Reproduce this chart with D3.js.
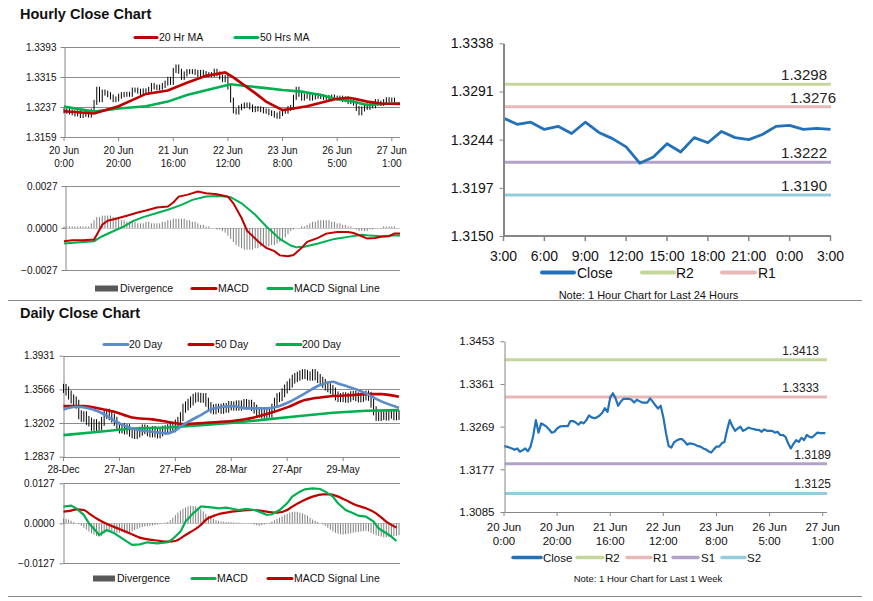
<!DOCTYPE html>
<html><head><meta charset="utf-8">
<script src="https://cdn.jsdelivr.net/npm/d3@7"></script>
<style>body{margin:0;background:#fff}svg{display:block}</style>
</head><body><svg id="c" width="873" height="601"></svg>
<script>
// ---------------- DATA ----------------
// Hourly (last week) close, 20 Jun 0:00 -> 27 Jun 1:00
const hourlyClose = [1.3227,1.3226,1.3224,1.3222,1.3219,1.3222,1.3215,1.3218,1.3222,1.3216,
1.3226,1.3249,1.3283,1.3256,1.3276,1.3273,1.3269,1.3263,1.3256,1.3258,
1.3265,1.3269,1.3270,1.3270,1.3270,1.3281,1.3281,1.3278,1.3273,1.3279,
1.3276,1.3283,1.3293,1.3289,1.3287,1.3289,1.3293,1.3299,1.3309,1.3301,
1.3332,1.3341,1.3330,1.3314,1.3323,1.3329,1.3329,1.3329,1.3327,1.3321,
1.3327,1.3324,1.3321,1.3321,1.3321,1.3330,1.3323,1.3315,1.3308,1.3314,
1.3289,1.3255,1.3227,1.3224,1.3235,1.3239,1.3242,1.3242,1.3237,1.3230,
1.3233,1.3232,1.3230,1.3227,1.3226,1.3222,1.3220,1.3216,1.3213,1.3220,
1.3226,1.3226,1.3233,1.3236,1.3262,1.3283,1.3270,1.3260,1.3265,1.3269,
1.3260,1.3263,1.3267,1.3265,1.3264,1.3262,1.3262,1.3258,1.3263,1.3260,
1.3260,1.3260,1.3256,1.3258,1.3251,1.3251,1.3247,1.3233,1.3222,1.3232,
1.3240,1.3236,1.3245,1.3240,1.3251,1.3247,1.3246,1.3251,1.3256,1.3255,
1.3255,1.3255];
const hourlyLabelIdx = [0,20,40,60,80,100,120];
const hourlyLabelDay = ["20 Jun","20 Jun","21 Jun","22 Jun","23 Jun","26 Jun","27 Jun"];
const hourlyLabelTime = ["0:00","20:00","16:00","12:00","8:00","5:00","1:00"];
const hourlyTicks = [1.3159,1.3237,1.3315,1.3393];

const ma20Idx = [0,11,20,30,38,45,52,59,62,70,74,80,84,89,99,104,106,111,116,123];
const ma20Val = [1.3226,1.3220,1.3239,1.3271,1.3280,1.3300,1.3318,1.3327,1.3314,1.3273,1.3251,1.3229,1.3233,1.3239,1.3257,1.3261,1.3259,1.3251,1.3246,1.3245];
const ma50Idx = [0,11,20,30,38,45,55,61,65,74,80,87,94,99,106,111,116,123];
const ma50Val = [1.3238,1.3225,1.3233,1.3239,1.3251,1.3268,1.3286,1.3296,1.3293,1.3286,1.3281,1.3277,1.3268,1.3259,1.3251,1.3242,1.3245,1.3246];

const hMacdTicks = [-0.0027,0,0.0027];
const hMacdIdx = [0,3,7,11,12,14,16,19,23,27,30,34,38,40,42,45,49,52,56,60,62,65,67,71,74,77,79,82,84,87,89,93,96,100,104,106,109,111,114,116,119,121,123];
const hMacdVal = [-0.00085,-0.00079,-0.00079,-0.00074,-0.00043,0.00021,0.00047,0.0006,0.00079,0.001,
0.00113,0.00132,0.00138,0.00164,0.00202,0.00213,0.00234,0.00223,0.00217,0.00202,
0.00159,0.00064,-0.00017,-0.00085,-0.00128,-0.00149,-0.00176,-0.00181,-0.00174,-0.00128,
-0.00089,-0.00064,-0.00036,-0.00026,-0.00026,-0.00032,-0.00053,-0.00068,-0.00064,-0.00057,
-0.00053,-0.00036,-0.00036];
const hSigIdx = [0,6,11,14,18,22,25,29,34,38,43,47,52,57,61,65,70,74,79,83,85,88,93,99,104,109,112,116,120,123];
const hSigVal = [-0.001,-0.00091,-0.00085,-0.00053,-0.00021,0.00011,0.00043,0.0007,0.00096,0.00117,
0.00149,0.00181,0.00202,0.00206,0.00198,0.00159,0.00085,0.00011,-0.0007,-0.00113,
-0.00123,-0.00121,-0.001,-0.0007,-0.00057,-0.00043,-0.00049,-0.00053,-0.00049,-0.00049];
const hourlyDiv = [0.0001,0.0001,0.0001,0.0001,0.0001,0.0001,0.0001,0.0001,0.0001,0.0001,
0.0003,0.0005,0.0007,0.0007,0.0008,0.0008,0.0008,0.0008,0.0007,0.0007,
0.0006,0.0005,0.0005,0.0004,0.0004,0.0004,0.0004,0.0003,0.0003,0.0003,
0.0004,0.0004,0.0003,0.0003,0.0003,0.0003,0.0004,0.0004,0.0005,0.0005,
0.0006,0.0006,0.0006,0.0006,0.0006,0.0005,0.0005,0.0004,0.0004,0.0003,
0.0002,0.0002,0.0001,0.0001,0,0,-0.0001,-0.0001,-0.0002,-0.0003,
-0.0005,-0.0007,-0.0009,-0.0011,-0.0012,-0.0013,-0.0014,-0.0014,-0.0014,-0.0014,
-0.0013,-0.0013,-0.0012,-0.0012,-0.0012,-0.0012,-0.0011,-0.0011,-0.001,-0.0009,
-0.0008,-0.0006,-0.0004,-0.0002,-0.0001,0,0,0.0001,0.0001,0.0002,
0.0003,0.0004,0.0004,0.0005,0.0005,0.0005,0.0005,0.0005,0.0004,0.0004,
0.0003,0.0003,0.0002,0.0002,0.0001,0.0001,0,-0.0001,-0.0002,-0.0002,
-0.0002,-0.0002,-0.0001,-0.0001,0,0,0,0.0001,0.0001,0.0001,
0.0001,0.0001];

// Daily close, 28-Dec -> late Jun
const dailyClose = [1.3577,1.3548,1.3505,1.3462,1.3441,1.3405,1.3291,1.3263,1.3280,1.3230,
1.3213,1.3166,1.3195,1.3160,1.3170,1.3220,1.3295,1.3309,1.3280,1.3255,
1.3220,1.3166,1.3138,1.3150,1.3127,1.3141,1.3102,1.3084,1.3077,1.3095,
1.3113,1.3138,1.3130,1.3109,1.3095,1.3120,1.3095,1.3084,1.3105,1.3123,
1.3130,1.3141,1.3166,1.3150,1.3191,1.3220,1.3270,1.3362,1.3387,1.3416,
1.3441,1.3470,1.3484,1.3480,1.3470,1.3477,1.3427,1.3380,1.3355,1.3345,
1.3362,1.3362,1.3350,1.3370,1.3362,1.3391,1.3387,1.3384,1.3398,1.3384,
1.3398,1.3413,1.3398,1.3405,1.3380,1.3352,1.3327,1.3309,1.3298,1.3305,
1.3309,1.3309,1.3362,1.3427,1.3477,1.3487,1.3530,1.3570,1.3605,1.3634,
1.3677,1.3695,1.3709,1.3723,1.3737,1.3727,1.3712,1.3709,1.3737,1.3712,
1.3684,1.3655,1.3630,1.3602,1.3584,1.3566,1.3537,1.3495,1.3477,1.3477,
1.3487,1.3470,1.3480,1.3498,1.3502,1.3487,1.3473,1.3480,1.3495,1.3505,
1.3491,1.3416,1.3334,1.3273,1.3273,1.3284,1.3284,1.3277,1.3305,1.3298,
1.3280,1.3284,1.3291];
const dailyLabelIdx = [0,22,44,66,88,110];
const dailyLabels = ["28-Dec","27-Jan","27-Feb","28-Mar","27-Apr","29-May"];
const dailyTicks = [1.2837,1.3202,1.3566,1.3931];
const dMa20Idx = [0,5,14,22,27,35,41,43,48,54,59,67,72,80,84,89,95,101,106,108,114,119,124,132];
const dMa20Val = [1.3349,1.3378,1.3324,1.3197,1.3143,1.3107,1.3089,1.3107,1.3197,1.3288,1.3360,1.3385,1.3360,1.3360,1.3378,1.3432,1.3523,1.3613,1.3649,1.3631,1.3577,1.3523,1.3450,1.3367];
const dMa50Idx = [0,8,14,20,27,35,43,48,56,67,75,80,88,95,101,106,114,119,125,132];
const dMa50Val = [1.3385,1.3385,1.3360,1.3324,1.3262,1.3241,1.3205,1.3190,1.3205,1.3226,1.3262,1.3299,1.3371,1.3450,1.3479,1.3494,1.3505,1.3515,1.3515,1.3486];
const dMa200Idx = [0,14,27,41,54,67,80,93,106,119,132];
const dMa200Val = [1.3071,1.3107,1.3143,1.3154,1.3179,1.3205,1.3241,1.3277,1.3313,1.3335,1.3342];

const dMacdTicks = [-0.0127,0,0.0127];
const dMacdIdx = [0,3,5,8,10,13,14,17,20,22,25,27,30,33,37,41,43,46,48,51,54,55,59,61,64,67,69,72,75,77,80,82,85,88,90,93,95,98,101,103,106,108,111,114,116,119,122,124,127,129,131];
const dMacdVal = [0.00529,0.00561,0.00476,0.00265,0,-0.00265,-0.0037,-0.00212,-0.00317,-0.00423,
-0.00582,-0.00688,-0.00667,-0.00603,-0.00635,-0.00603,-0.00497,-0.00265,0.00053,0.00317,
0.00529,0.00529,0.00497,0.00476,0.00497,0.00455,0.00423,0.00455,0.00423,0.0037,
0.00265,0.00286,0.00423,0.00635,0.00847,0.01005,0.01079,0.01111,0.0109,0.01005,
0.00847,0.00635,0.00423,0.00317,0.00243,0.00212,0.00053,-0.00159,-0.00317,-0.00423,
-0.00561];
const dSigIdx = [0,3,5,8,10,14,18,22,26,30,35,41,44,48,54,56,60,64,69,75,80,84,88,90,94,98,102,105,107,111,115,119,123,127,131];
const dSigVal = [0.0037,0.00402,0.00444,0.00423,0.00317,0.00106,-0.00053,-0.0018,-0.00317,-0.00455,
-0.00529,-0.00582,-0.00561,-0.0037,-0.00053,0.00106,0.00265,0.00339,0.00392,0.00423,
0.0037,0.00339,0.00423,0.00529,0.00709,0.00847,0.00921,0.00921,0.00878,0.00741,
0.00582,0.00476,0.00317,0.00053,-0.00138];
const dailyDiv = [0.0015,0.0014,0.0012,0.0008,0.0004,0,-0.0003,-0.0008,-0.0014,-0.0020,
-0.0026,-0.0032,-0.0036,-0.0040,-0.0042,-0.0040,-0.0032,-0.0026,-0.0022,-0.0024,
-0.0028,-0.0030,-0.0030,-0.0028,-0.0030,-0.0032,-0.0030,-0.0026,-0.0022,-0.0018,
-0.0014,-0.0012,-0.0010,-0.0009,-0.0008,-0.0007,-0.0006,-0.0004,-0.0002,0,
0.0002,0.0004,0.0010,0.0018,0.0026,0.0034,0.0040,0.0046,0.0050,0.0054,
0.0056,0.0055,0.0054,0.0050,0.0044,0.0038,0.0030,0.0024,0.0018,0.0014,
0.0010,0.0008,0.0006,0.0005,0.0004,0.0004,0.0003,0.0003,0.0002,0.0002,
0.0001,0.0001,0,-0.0001,-0.0002,-0.0004,-0.0006,-0.0008,-0.0006,-0.0004,
-0.0002,0.0002,0.0006,0.0010,0.0014,0.0018,0.0022,0.0026,0.0030,0.0034,
0.0036,0.0037,0.0036,0.0034,0.0032,0.0028,0.0024,0.0018,0.0012,0.0008,
0.0004,0,-0.0004,-0.0008,-0.0014,-0.0020,-0.0026,-0.0030,-0.0033,-0.0035,
-0.0036,-0.0035,-0.0033,-0.0032,-0.0030,-0.0028,-0.0028,-0.0026,-0.0025,-0.0024,
-0.0026,-0.0030,-0.0034,-0.0038,-0.0040,-0.0042,-0.0044,-0.0044,-0.0043,-0.0042,
-0.0040,-0.0040,-0.0038];

// Last 24 hours close, 3:00 -> 3:00
const dayClose = [1.3265,1.3259,1.3261,1.3254,1.3257,1.3250,1.3261,1.3251,1.3245,1.3237,
1.3221,1.3227,1.3240,1.3232,1.3246,1.3241,1.3252,1.3246,1.3244,1.3249,
1.3257,1.3258,1.3254,1.3255,1.3254];
const dayLabels = ["3:00","6:00","9:00","12:00","15:00","18:00","21:00","0:00","3:00"];
const dayTicks = [1.3150,1.3197,1.3244,1.3291,1.3338];
const dayLevelNames = ["R2","R1","S1","S2"];
const dayLevelVals = [1.3298,1.3276,1.3222,1.3190];

const weekTicks = [1.3085,1.3177,1.3269,1.3361,1.3453];
const weekLevelNames = ["R2","R1","S1","S2"];
const weekLevelVals = [1.3413,1.3333,1.3189,1.3125];

// ---------------- STYLE ----------------
const FONT = '"Liberation Sans", Arial, sans-serif';
const C = {red:"#c00000", green:"#00b050", blue20:"#5b8bc9", close:"#2371b8",
  R2:"#c3d69b", R1:"#e6b9b8", S1:"#b3a2c7", S2:"#93cddd", axis:"#868686", grid:"#8c8c8c", div:"#7f7f7f", txt:"#111"};

const svg = d3.select("#c");
svg.append("rect").attr("width",873).attr("height",601).attr("fill","#fff");

function txt(x,y,s,size,opt={}) {
  return svg.append("text").attr("x",x).attr("y",y).text(s)
    .attr("font-family",FONT).attr("font-size",size).attr("fill",opt.fill||C.txt)
    .attr("font-weight",opt.bold?"bold":null).attr("text-anchor",opt.anchor||"start");
}
function hline(x1,x2,y,color,w){svg.append("line").attr("x1",x1).attr("x2",x2).attr("y1",y).attr("y2",y).attr("stroke",color).attr("stroke-width",w||1);}
function legLine(x1,x2,y,color,w){svg.append("line").attr("x1",x1).attr("x2",x2).attr("y1",y).attr("y2",y).attr("stroke",color).attr("stroke-width",w).attr("stroke-linecap","round");}
function yAxis(x, scale, ticks, fmt, size, pad) {
  const g = svg.append("g").attr("transform",`translate(${x},0)`)
    .call(d3.axisLeft(scale).tickValues(ticks).tickFormat(fmt).tickSize(4).tickPadding(pad).tickSizeOuter(0));
  g.selectAll("text").attr("font-family",FONT).attr("font-size",size).attr("fill",C.txt);
  g.selectAll("line").attr("stroke",C.axis);
  g.select(".domain").attr("stroke",C.axis);
  return g;
}
const f4 = d3.format(".4f");
const lineGen = (x,y) => d3.line().x(d=>x(d[0])).y(d=>y(d[1]));

// separators
hline(8,862,300.5,"#8a8a8a",1);
hline(8,862,596.5,"#8a8a8a",1);

// ============ Panel A: Hourly close ============
txt(20,18.5,"Hourly Close Chart",14.5,{bold:true});
const xA = d3.scaleLinear().domain([0,123]).range([64,400]);
const yA = d3.scaleLinear().domain([1.3159,1.3393]).range([137,47]);
hourlyTicks.forEach(t=>hline(64,400,Math.round(yA(t))+0.5,C.grid,1));
yAxis(64.5,yA,hourlyTicks,f4,10,4);
svg.append("g").selectAll("line").data(hourlyLabelIdx).join("line")
  .attr("x1",d=>xA(d)).attr("x2",d=>xA(d)).attr("y1",137).attr("y2",141).attr("stroke",C.axis);
hourlyLabelIdx.forEach((d,i)=>{
  txt(xA(d),153.5,hourlyLabelDay[i],10,{anchor:"middle"});
  txt(xA(d),167,hourlyLabelTime[i],10,{anchor:"middle"});
});
svg.append("g").selectAll("line").data(hourlyClose).join("line")
  .attr("x1",(d,i)=>xA(i)).attr("x2",(d,i)=>xA(i))
  .attr("y1",(d,i)=>yA(Math.max(d,hourlyClose[Math.max(0,i-1)]))-2.5)
  .attr("y2",(d,i)=>yA(Math.min(d,hourlyClose[Math.max(0,i-1)]))+2.5)
  .attr("stroke","#000").attr("stroke-width",1);
svg.append("path").datum(d3.zip(ma50Idx,ma50Val)).attr("d",lineGen(xA,yA)).attr("fill","none").attr("stroke",C.green).attr("stroke-width",2.6);
svg.append("path").datum(d3.zip(ma20Idx,ma20Val)).attr("d",lineGen(xA,yA)).attr("fill","none").attr("stroke",C.red).attr("stroke-width",2.6);
legLine(135,157,37.5,C.red,3); txt(159,41,"20 Hr MA",10.5);
legLine(235,258,37.5,C.green,3); txt(260,41,"50 Hrs MA",10.5);

// ============ Panel B: Hourly MACD ============
const yB = d3.scaleLinear().domain([-0.0027,0.0027]).range([270,186]);
hline(65,400,Math.round(yB(0.0027))+0.5,C.grid,1);
hline(65,400,Math.round(yB(0))+0.5,"#c8c8c8",1);
hline(65,400,Math.round(yB(-0.0027))+0.5,C.grid,1);
yAxis(65.5,yB,hMacdTicks,f4,10,4);
svg.append("g").selectAll("line").data(hourlyDiv).join("line")
  .attr("x1",(d,i)=>xA(i)).attr("x2",(d,i)=>xA(i))
  .attr("y1",yB(0)).attr("y2",d=>yB(d)).attr("stroke",C.div).attr("stroke-width",1);
svg.append("path").datum(d3.zip(hSigIdx,hSigVal)).attr("d",lineGen(xA,yB)).attr("fill","none").attr("stroke",C.green).attr("stroke-width",2);
svg.append("path").datum(d3.zip(hMacdIdx,hMacdVal)).attr("d",lineGen(xA,yB)).attr("fill","none").attr("stroke",C.red).attr("stroke-width",2);
svg.append("rect").attr("x",95).attr("y",285.5).attr("width",23).attr("height",6).attr("fill","#595959");
txt(120,292,"Divergence",10.5);
legLine(192,216,288.5,C.red,3); txt(218,292,"MACD",10.5);
legLine(268,292,288.5,C.green,3); txt(294,292,"MACD Signal Line",10.5);

// ============ Panel C: Daily close ============
txt(20,318,"Daily Close Chart",14.5,{bold:true});
const xC = d3.scaleLinear().domain([0,132]).range([63.5,399]);
const yC = d3.scaleLinear().domain([1.2837,1.3931]).range([456.7,355.7]);
dailyTicks.forEach(t=>hline(63.5,400,Math.round(yC(t))+0.5,C.grid,1));
yAxis(63.5,yC,dailyTicks,f4,10,5);
svg.append("g").selectAll("line").data(dailyLabelIdx).join("line")
  .attr("x1",d=>xC(d)).attr("x2",d=>xC(d)).attr("y1",457).attr("y2",461).attr("stroke",C.axis);
dailyLabelIdx.forEach((d,i)=>txt(xC(d),472.5,dailyLabels[i],10,{anchor:"middle"}));
svg.append("g").selectAll("line").data(dailyClose).join("line")
  .attr("x1",(d,i)=>xC(i)).attr("x2",(d,i)=>xC(i))
  .attr("y1",(d,i)=>yC(Math.max(d,dailyClose[Math.max(0,i-1)]))-4.5)
  .attr("y2",(d,i)=>yC(Math.min(d,dailyClose[Math.max(0,i-1)]))+4.5)
  .attr("stroke","#000").attr("stroke-width",1);
svg.append("path").datum(d3.zip(dMa200Idx,dMa200Val)).attr("d",lineGen(xC,yC)).attr("fill","none").attr("stroke",C.green).attr("stroke-width",2.6);
svg.append("path").datum(d3.zip(dMa50Idx,dMa50Val)).attr("d",d3.line().curve(d3.curveMonotoneX).x(d=>xC(d[0])).y(d=>yC(d[1]))).attr("fill","none").attr("stroke",C.red).attr("stroke-width",2.6);
svg.append("path").datum(d3.zip(dMa20Idx,dMa20Val)).attr("d",d3.line().curve(d3.curveMonotoneX).x(d=>xC(d[0])).y(d=>yC(d[1]))).attr("fill","none").attr("stroke",C.blue20).attr("stroke-width",2.6);
legLine(104,128,344.5,C.blue20,3); txt(129,348,"20 Day",10.5);
legLine(189,213,344.5,C.red,3); txt(215,348,"50 Day",10.5);
legLine(277,301,344.5,C.green,3); txt(302,348,"200 Day",10.5);

// ============ Panel D: Daily MACD ============
const yD = d3.scaleLinear().domain([-0.0127,0.0127]).range([563.3,483.3]);
hline(63.5,400,Math.round(yD(0.0127))+0.5,C.grid,1);
hline(63.5,400,Math.round(yD(0))+0.5,"#c8c8c8",1);
hline(63.5,400,Math.round(yD(-0.0127))+0.5,C.grid,1);
yAxis(63.5,yD,dMacdTicks,f4,10,5);
svg.append("g").selectAll("line").data(dailyDiv).join("line")
  .attr("x1",(d,i)=>xC(i)).attr("x2",(d,i)=>xC(i))
  .attr("y1",yD(0)).attr("y2",d=>yD(d)).attr("stroke",C.div).attr("stroke-width",1);
svg.append("path").datum(d3.zip(dSigIdx,dSigVal)).attr("d",d3.line().curve(d3.curveMonotoneX).x(d=>xC(d[0])).y(d=>yD(d[1]))).attr("fill","none").attr("stroke",C.red).attr("stroke-width",2.2);
svg.append("path").datum(d3.zip(dMacdIdx,dMacdVal)).attr("d",lineGen(xC,yD)).attr("fill","none").attr("stroke",C.green).attr("stroke-width",2.2);
svg.append("rect").attr("x",93).attr("y",575.5).attr("width",22).attr("height",6).attr("fill","#595959");
txt(117,582,"Divergence",10.5);
legLine(192,215,578.5,C.green,3); txt(217,582,"MACD",10.5);
legLine(268,292,578.5,C.red,3); txt(294,582,"MACD Signal Line",10.5);

// ============ Panel E: Last 24 hours ============
const xE = d3.scaleLinear().domain([0,24]).range([503.5,830.5]);
const yE = d3.scaleLinear().domain([1.3150,1.3338]).range([236,43.3]);
const lvlEEnd = [827,836,827,827];
dayLevelVals.forEach((v,i)=>{
  hline(504,831,yE(v),C[dayLevelNames[i]],3);
  txt(lvlEEnd[i],yE(v)-4,f4(v),15,{anchor:"end",fill:"#222"});
});
svg.append("path").datum(dayClose.map((v,i)=>[i,v])).attr("d",lineGen(xE,yE)).attr("fill","none").attr("stroke",C.close).attr("stroke-width",2.8).attr("stroke-linejoin","round");
const gE = yAxis(503.5,yE,dayTicks,f4,14,6);
gE.select(".domain").attr("stroke-width",2);
svg.append("line").attr("x1",503.5).attr("x2",831).attr("y1",236).attr("y2",236).attr("stroke",C.axis).attr("stroke-width",2);
dayLabels.forEach((s,i)=>{
  const x = xE(i*3);
  svg.append("line").attr("x1",x).attr("x2",x).attr("y1",236).attr("y2",241).attr("stroke",C.axis).attr("stroke-width",1.5);
  txt(x,261,s,14,{anchor:"middle"});
});
legLine(542,574,272.5,C.close,4); txt(577,277.5,"Close",14);
legLine(642,674,272.5,C.R2,4); txt(676,277.5,"R2",14);
legLine(722,755,272.5,C.R1,4); txt(758,277.5,"R1",14);
txt(648.5,299,"Note: 1 Hour Chart for Last 24 Hours",11,{anchor:"middle"});

// ============ Panel F: Last week ============
const xF = d3.scaleLinear().domain([0,120]).range([504,822.7]);
const yF = d3.scaleLinear().domain([1.3085,1.3453]).range([512,341.3]);
const lvlFEnd = [819,819,831,831];
weekLevelVals.forEach((v,i)=>{
  hline(505,827,yF(v),C[weekLevelNames[i]],3);
  txt(lvlFEnd[i],yF(v)-5,f4(v),12,{anchor:"end",fill:"#222"});
});
svg.append("path").datum(hourlyClose.map((v,i)=>[i,v])).attr("d",lineGen(xF,yF)).attr("fill","none").attr("stroke",C.close).attr("stroke-width",2.2).attr("stroke-linejoin","round");
yAxis(504.5,yF,weekTicks,f4,11.5,6);
svg.append("line").attr("x1",504.5).attr("x2",827).attr("y1",512.5).attr("y2",512.5).attr("stroke",C.axis);
hourlyLabelIdx.forEach((d,i)=>{
  const x = xF(d);
  svg.append("line").attr("x1",x).attr("x2",x).attr("y1",512).attr("y2",516).attr("stroke",C.axis);
  txt(x,531,hourlyLabelDay[i],11.5,{anchor:"middle"});
  txt(x,545,hourlyLabelTime[i],11.5,{anchor:"middle"});
});
legLine(513,541,557.5,C.close,3.5); txt(543,561.5,"Close",11.5);
legLine(577,603,557.5,C.R2,3.5); txt(605,561.5,"R2",11.5);
legLine(627,651,557.5,C.R1,3.5); txt(653,561.5,"R1",11.5);
legLine(673,698,557.5,C.S1,3.5); txt(701,561.5,"S1",11.5);
legLine(722,745,557.5,C.S2,3.5); txt(747,561.5,"S2",11.5);
txt(648,581.5,"Note: 1 Hour Chart for  Last 1 Week",9.5,{anchor:"middle"});
</script></body></html>
